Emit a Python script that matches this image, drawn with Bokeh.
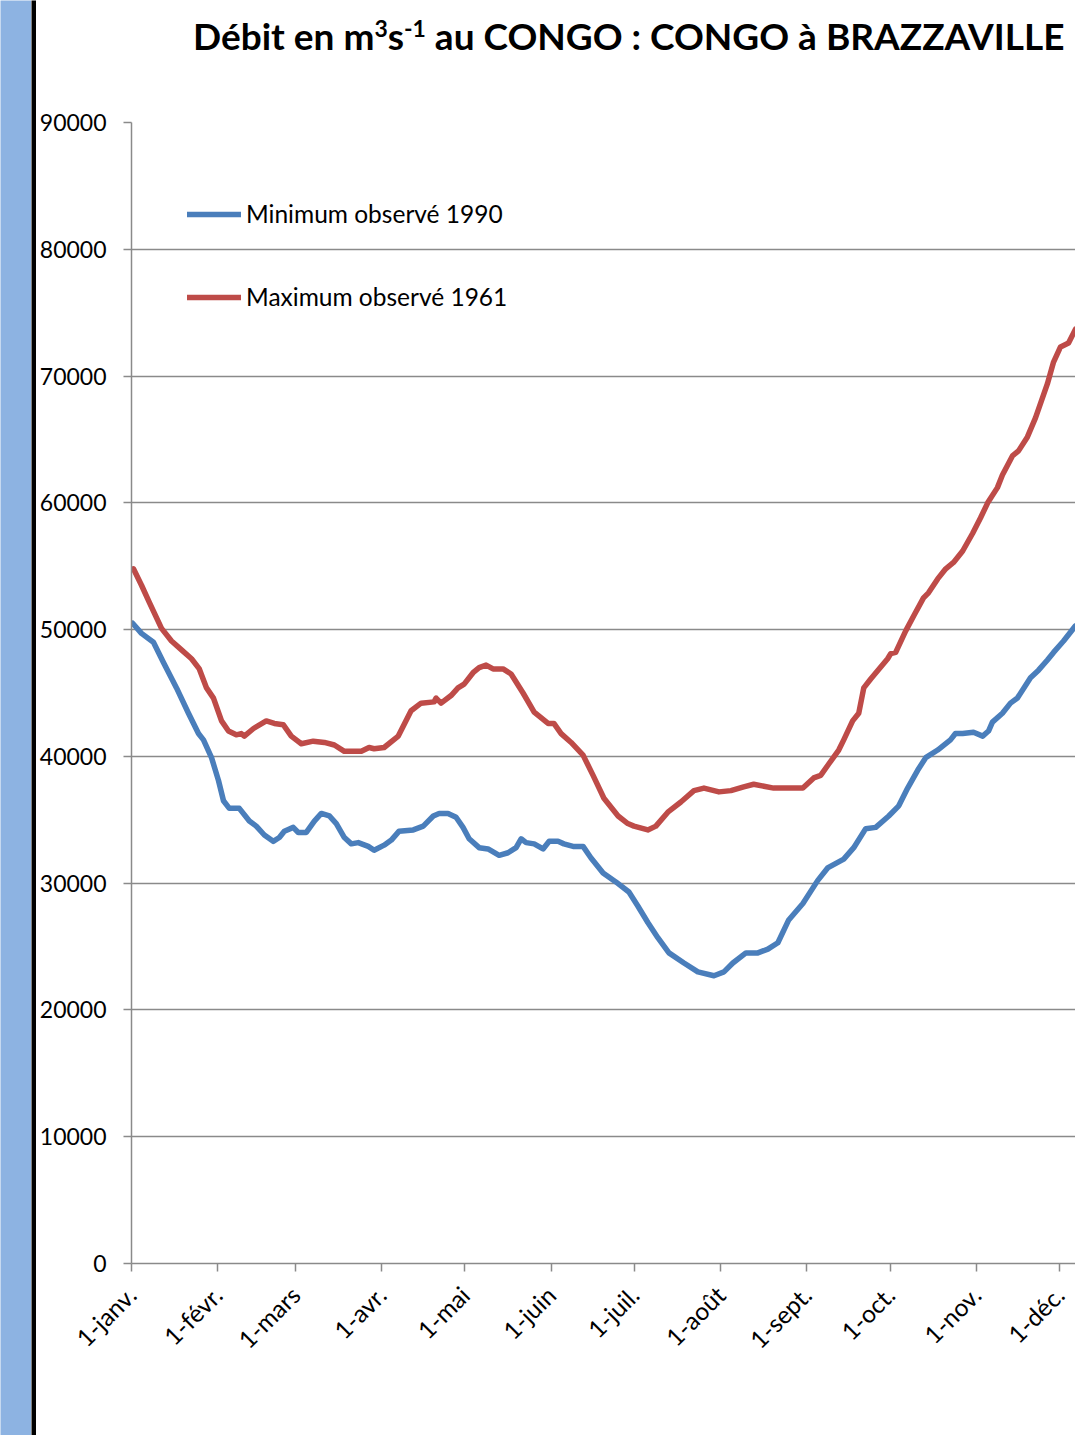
from math import pi
from bokeh.plotting import figure
from bokeh.layouts import row, column
from bokeh.models import FixedTicker, Range1d, Div
from bokeh.embed import file_html
from bokeh.resources import INLINE

# ---- data (day of year, discharge m3/s) ----
min_days = [0.4, 3.6, 7.9, 11.5, 16.2, 20.5, 24.1, 25.9, 28.8, 31.3, 33.1, 35.2, 38.8, 42.4, 44.9,
            47.8, 51.0, 53.2, 55.0, 58.2, 60.0, 62.9, 65.8, 68.3, 71.2, 73.7, 76.6, 79.1, 81.6,
            85.2, 87.3, 90.9, 93.5, 96.3, 101.4, 105.0, 108.6, 110.7, 113.9, 116.8, 119.3, 121.5,
            125.1, 128.3, 132.3, 135.5, 138.4, 140.2, 142.0, 144.9, 148.1, 150.3, 153.5, 155.6,
            158.9, 162.5, 165.3, 169.7, 174.3, 179.0, 182.2, 185.8, 189.4, 193.4, 198.8, 203.8,
            209.6, 213.2, 216.4, 221.1, 225.4, 229.0, 232.6, 236.5, 241.6, 246.9, 250.5, 256.3,
            259.9, 264.2, 267.8, 272.5, 276.1, 279.3, 282.9, 285.8, 290.1, 294.7, 296.5, 299.1,
            303.0, 306.3, 308.4, 309.8, 313.4, 316.3, 318.8, 323.5, 326.4, 329.6, 331.8, 335.4, 339.7]
min_q = [50500, 49700, 49000, 47400, 45400, 43400, 41800, 41300, 39900, 38100, 36500, 35900, 35900,
         34900, 34500, 33800, 33300, 33600, 34100, 34400, 34000, 34000, 34900, 35500, 35300, 34700,
         33600, 33100, 33200, 32900, 32600, 33000, 33400, 34100, 34200, 34500, 35300, 35500, 35500,
         35200, 34400, 33500, 32800, 32700, 32200, 32400, 32800, 33500, 33200, 33100, 32700, 33300,
         33300, 33100, 32900, 32900, 32000, 30800, 30100, 29300, 28200, 26900, 25700, 24500, 23700,
         23000, 22700, 23000, 23700, 24500, 24500, 24800, 25300, 27100, 28400, 30200, 31200, 31900,
         32800, 34300, 34400, 35300, 36100, 37500, 38900, 39900, 40500, 41300, 41800, 41800, 41900,
         41600, 42000, 42700, 43400, 44200, 44600, 46200, 46800, 47600, 48200, 49100, 50300]

max_days = [0.7, 3.6, 6.5, 10.8, 14.4, 18.0, 21.6, 24.4, 27.0, 29.5, 32.4, 34.9, 37.7, 39.5, 40.6,
            43.9, 48.5, 51.4, 54.6, 57.5, 61.1, 65.4, 69.4, 73.0, 76.6, 82.7, 85.5, 87.3, 90.9,
            96.0, 100.6, 104.2, 108.9, 109.6, 111.4, 115.0, 117.5, 119.7, 122.9, 125.1, 127.6,
            130.1, 133.7, 136.6, 140.9, 144.9, 149.9, 152.0, 154.6, 158.2, 162.5, 166.1, 170.0,
            175.1, 178.6, 180.8, 185.8, 188.7, 193.0, 197.7, 202.4, 206.0, 211.4, 215.7, 220.3,
            223.9, 231.1, 236.2, 241.6, 245.5, 248.0, 250.9, 254.5, 256.3, 259.5, 261.7, 263.5,
            266.0, 272.1, 273.2, 275.0, 278.6, 281.5, 285.0, 286.8, 290.1, 293.0, 295.8, 299.1,
            302.7, 305.5, 308.1, 311.6, 313.4, 317.0, 319.2, 322.4, 325.3, 329.6, 331.8, 334.3,
            337.2, 339.7]
max_q = [54800, 53500, 52100, 50100, 49100, 48400, 47700, 46900, 45400, 44600, 42800, 42000, 41700,
         41800, 41600, 42200, 42800, 42600, 42500, 41600, 41000, 41200, 41100, 40900, 40400, 40400,
         40700, 40600, 40700, 41600, 43600, 44200, 44300, 44600, 44200, 44800, 45400, 45700, 46600,
         47000, 47200, 46900, 46900, 46500, 45000, 43500, 42600, 42600, 41800, 41100, 40100, 38500,
         36700, 35300, 34700, 34500, 34200, 34500, 35600, 36400, 37300, 37500, 37200, 37300, 37600,
         37800, 37500, 37500, 37500, 38300, 38500, 39400, 40500, 41300, 42800, 43400, 45400, 46100,
         47700, 48100, 48200, 49900, 51100, 52500, 52900, 54000, 54800, 55300, 56200, 57600, 58800,
         60000, 61200, 62200, 63700, 64100, 65200, 66700, 69400, 71100, 72300, 72600, 73700]

month_days = [0, 31, 59, 90, 120, 151, 181, 212, 243, 273, 304, 334]
month_labels = ["1-janv.", "1-févr.", "1-mars", "1-avr.", "1-mai", "1-juin", "1-juil.",
                "1-août", "1-sept.", "1-oct.", "1-nov.", "1-déc."]
y_ticks = [0, 10000, 20000, 30000, 40000, 50000, 60000, 70000, 80000, 90000]

FONT = "Lato"
GRID = "#8a8a8a"

# ---- left decorative strips ----
strip = figure(width=31, height=1435, toolbar_location=None, output_backend="svg",
               min_border=0, border_fill_color="#8db3e2", background_fill_color="#8db3e2",
               outline_line_color=None, x_range=Range1d(0, 1), y_range=Range1d(0, 1))
strip.axis.visible = False
strip.grid.visible = False

bar = figure(width=5, height=1435, toolbar_location=None, output_backend="svg",
             min_border=0, border_fill_color="black", background_fill_color="black",
             outline_line_color=None, x_range=Range1d(0, 1), y_range=Range1d(0, 1))
bar.axis.visible = False
bar.grid.visible = False

# ---- title ----
title_html = (
    '<div style="white-space:nowrap; padding-left:157px; padding-top:17px; '
    'font-family:Lato; font-weight:bold; font-size:37px; line-height:37px; color:black;">'
    'Débit en m<sup style="font-size:0.62em; line-height:0; vertical-align:0.55em;">3</sup>'
    's<sup style="font-size:0.62em; line-height:0; vertical-align:0.55em;">-1</sup>'
    ' au CONGO : CONGO à BRAZZAVILLE</div>'
)
title_div = Div(text=title_html, width=1039, height=100, margin=0,
                styles={"overflow": "hidden"})

# ---- main chart ----
p = figure(width=1039, height=1335, toolbar_location=None, output_backend="svg",
           x_range=Range1d(0, 339.7), y_range=Range1d(0, 90000),
           min_border_left=94, min_border_right=0, min_border_top=22, min_border_bottom=172,
           outline_line_color=None, background_fill_color="white", border_fill_color="white")

p.line(min_days, min_q, line_color="#4a7ebb", line_width=5.5, line_join="round", line_cap="round",
       legend_label="Minimum observé 1990")
p.line(max_days, max_q, line_color="#be4b48", line_width=5.5, line_join="round", line_cap="round",
       legend_label="Maximum observé 1961")

p.xgrid.visible = False
p.ygrid.grid_line_color = GRID
p.ygrid.grid_line_width = 1.5

p.xaxis.ticker = FixedTicker(ticks=month_days)
p.xaxis.major_label_overrides = {d: l for d, l in zip(month_days, month_labels)}
p.xaxis.major_label_orientation = pi / 4
p.yaxis.ticker = FixedTicker(ticks=y_ticks)
p.yaxis.major_label_overrides = {v: str(v) for v in y_ticks}

for ax in (p.xaxis, p.yaxis):
    ax.axis_line_color = GRID
    ax.axis_line_width = 1.5
    ax.major_tick_line_color = GRID
    ax.major_tick_line_width = 1.5
    ax.major_tick_out = 8
    ax.major_tick_in = 0
    ax.minor_tick_line_color = None
    ax.major_label_text_font = FONT
    ax.major_label_text_color = "black"
p.yaxis.major_label_text_font_size = "23px"
p.xaxis.major_label_text_font_size = "24.5px"
p.yaxis.major_label_standoff = 17
p.xaxis.major_label_standoff = 19

leg = p.legend[0]
leg.location = (56, 952)
leg.border_line_color = None
leg.background_fill_alpha = 0
leg.padding = 0
leg.margin = 0
leg.glyph_width = 54
leg.glyph_height = 24
leg.label_height = 24
leg.spacing = 54
leg.label_standoff = 5
leg.label_text_font = FONT
leg.label_text_font_size = "24.5px"
leg.label_text_color = "black"

layout = row(strip, bar, column(title_div, p, spacing=0), spacing=0)
open("out.html", "w").write(file_html(layout, INLINE))
